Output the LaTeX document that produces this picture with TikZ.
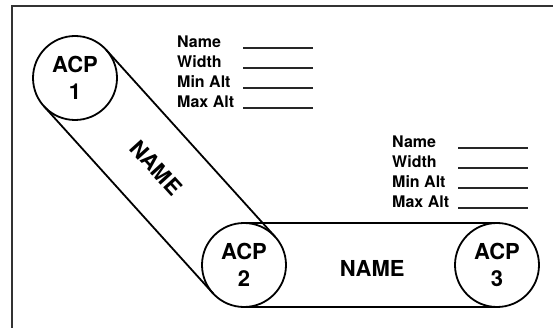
\documentclass[tikz,border=0pt]{standalone}
\usepackage{fontspec}
\setmainfont{TeX Gyre Heros}
\tikzset{
  acp/.style={circle, draw, line width=1.8pt, minimum size=84pt, inner sep=0pt,
    outer sep=0pt, align=center, font=\bfseries\fontsize{22}{27}\selectfont},
  belt/.style={line width=1.8pt},
  beltname/.style={font=\bfseries\fontsize{22}{26}\selectfont},
  lbl/.style={anchor=base west, inner sep=0pt, font=\bfseries\fontsize{16}{20}\selectfont},
  blank/.style={line width=1.4pt, black!85},
  frameline/.style={line width=2pt, black!80}
}
\begin{document}
\begin{tikzpicture}[x=1pt,y=-1pt]
    % page size
    \useasboundingbox (0,0) rectangle (553,328);

    % frame (only top and left are visible)
    \draw[frameline] (553,6) -- (12,6) -- (12,328);

    % control points
    \node[acp] (acp1) at (75,78)   {ACP\\1};
    \node[acp] (acp2) at (244,265) {ACP\\2};
    \node[acp] (acp3) at (497,265) {ACP\\3};

    % diagonal belt ACP 1 -> ACP 2
    \draw[belt] (acp1.42.1)   -- (acp2.42.1);
    \draw[belt] (acp1.-137.9) -- (acp2.-137.9);
    \path (acp1) -- (acp2) node[beltname, pos=0.47, sloped] (name12) {NAME};

    % horizontal belt ACP 2 -> ACP 3
    \draw[belt] (acp2.north) -- (acp3.north);
    \draw[belt] (acp2.south) -- (acp3.south);
    \path (acp2) -- (acp3) node[beltname, pos=0.51, yshift=-3pt] (name23) {NAME};

    % data fields
    \foreach \bx/\by/\blk in {177/48/a, 392/148/b}{
        \foreach \txt [count=\i] in {Name, Width, Min Alt, Max Alt}{
            \node[lbl] (\blk\i) at (\bx,\by+\i*20-20) {\txt};
            \draw[blank] (\bx+66,\by+\i*20-20) -- ++(70,0);
        }
    }
\end{tikzpicture}
\end{document}
